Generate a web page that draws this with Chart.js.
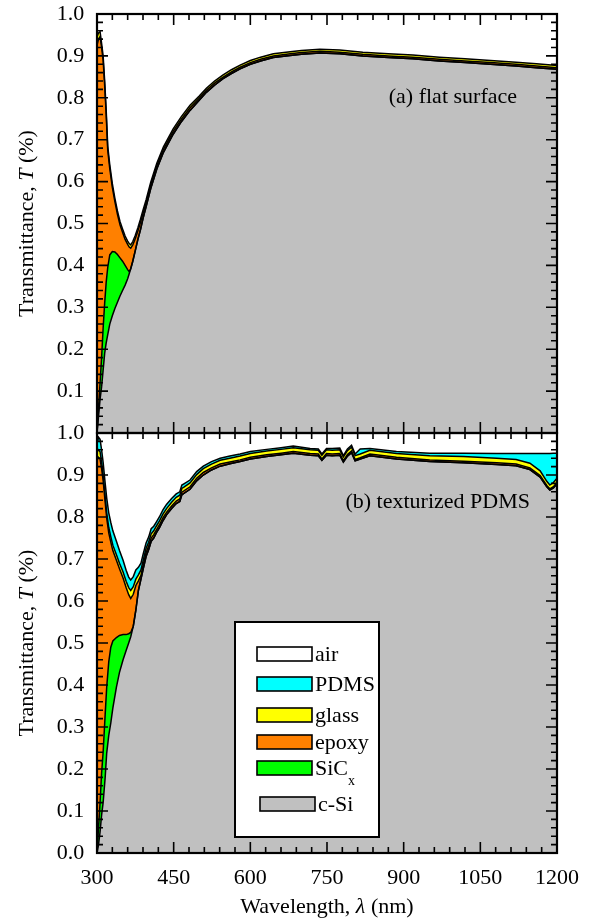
<!DOCTYPE html>
<html>
<head>
<meta charset="utf-8">
<script src="https://cdn.jsdelivr.net/npm/chart.js@4.4.1/dist/chart.umd.min.js"></script>
<style>
  html, body { margin: 0; padding: 0; background: #fff; overflow: hidden; }
  #wrap { position: relative; width: 602px; height: 923px; overflow: hidden; }
  canvas { position: absolute; left: 0; }
  #chartA { top: -12px; }
  #chartB { top: 407px; }
</style>
</head>
<body>
<div id="wrap">
  <canvas id="chartA" width="602" height="471"></canvas>
  <canvas id="chartB" width="602" height="516"></canvas>
</div>
<script>
const FONT = '"Liberation Serif", "Times New Roman", serif';
const B_TOP = 407; // page offset of the lower canvas

// (a) flat surface: transmittance at the top of each layer (cumulative)
const wlA = [300, 303, 306, 309, 312, 315, 318, 321, 325, 330, 335, 340, 345, 350, 355, 360, 363, 366, 370, 375,
  380, 385, 390, 396, 405, 417, 430, 449, 465, 482, 500, 514, 530, 546, 563, 580, 600, 620, 645, 678,
  700, 736, 775, 820, 870, 918, 970, 1020, 1070, 1120, 1160, 1200];
const glassA = [0.945, 0.955, 0.958, 0.93, 0.9, 0.84, 0.77, 0.685, 0.64, 0.595, 0.56, 0.53, 0.505, 0.487, 0.47, 0.458, 0.452, 0.449, 0.457, 0.472,
  0.49, 0.51, 0.532, 0.556, 0.598, 0.644, 0.683, 0.726, 0.755, 0.782, 0.804, 0.823, 0.84, 0.854, 0.867, 0.878, 0.889, 0.897, 0.905, 0.91,
  0.913, 0.916, 0.914, 0.909, 0.905, 0.902, 0.897, 0.893, 0.889, 0.885, 0.881, 0.877];
const epoxyA = [0.925, 0.94, 0.946, 0.92, 0.89, 0.83, 0.76, 0.675, 0.631, 0.586, 0.552, 0.522, 0.497, 0.479, 0.462, 0.45, 0.444, 0.441, 0.449, 0.464,
  0.482, 0.502, 0.524, 0.549, 0.592, 0.638, 0.677, 0.72, 0.749, 0.776, 0.799, 0.818, 0.835, 0.849, 0.862, 0.873, 0.884, 0.892, 0.9, 0.905,
  0.908, 0.911, 0.909, 0.904, 0.9, 0.897, 0.892, 0.888, 0.884, 0.88, 0.876, 0.872];
const sicA = [0.0, 0.06, 0.12, 0.18, 0.25, 0.31, 0.36, 0.395, 0.425, 0.433, 0.432, 0.426, 0.418, 0.41, 0.4, 0.39, 0.385, 0.392, 0.41, 0.436,
  0.462, 0.485, 0.512, 0.54, 0.583, 0.63, 0.67, 0.713, 0.743, 0.77, 0.794, 0.813, 0.83, 0.845, 0.858, 0.869, 0.88, 0.888, 0.896, 0.901,
  0.904, 0.907, 0.905, 0.9, 0.896, 0.893, 0.888, 0.884, 0.88, 0.876, 0.872, 0.868];
const cSiA = [0.0, 0.04, 0.08, 0.11, 0.15, 0.19, 0.215, 0.235, 0.26, 0.28, 0.297, 0.312, 0.327, 0.34, 0.353, 0.368, 0.38, 0.392, 0.41, 0.436,
  0.462, 0.485, 0.512, 0.54, 0.583, 0.63, 0.67, 0.713, 0.743, 0.77, 0.794, 0.813, 0.83, 0.845, 0.858, 0.869, 0.88, 0.888, 0.896, 0.901,
  0.904, 0.907, 0.905, 0.9, 0.896, 0.893, 0.888, 0.884, 0.88, 0.876, 0.872, 0.868];

// (b) texturized PDMS
const wlB = [300, 303, 306, 309, 312, 316, 319, 323, 327, 331, 338, 344, 351, 357, 362, 366, 371, 376, 381, 386,
  390, 396, 401, 406, 411, 416, 422, 429, 436, 446, 455, 462, 466, 470, 482, 495, 508, 524, 541, 560,
  580, 600, 632, 660, 684, 717, 733, 740, 749, 760, 775, 782, 790, 798, 805, 815, 834, 886, 951, 1017,
  1082, 1120, 1147, 1167, 1180, 1186, 1193, 1200];
const pdmsB = [0.975, 0.99, 0.985, 0.96, 0.93, 0.88, 0.845, 0.81, 0.787, 0.767, 0.742, 0.72, 0.697, 0.673, 0.657, 0.65, 0.658, 0.674, 0.68, 0.69,
  0.71, 0.738, 0.752, 0.772, 0.778, 0.788, 0.8, 0.817, 0.83, 0.844, 0.855, 0.86, 0.876, 0.879, 0.888, 0.908, 0.921, 0.932, 0.94, 0.945,
  0.95, 0.956, 0.961, 0.965, 0.969, 0.963, 0.962, 0.95, 0.963, 0.963, 0.964, 0.946, 0.962, 0.971, 0.95, 0.962, 0.963, 0.956, 0.952, 0.952,
  0.951, 0.951, 0.951, 0.951, 0.951, 0.951, 0.952, 0.952];
const glassB = [0.955, 0.96, 0.955, 0.93, 0.9, 0.848, 0.81, 0.775, 0.753, 0.733, 0.71, 0.69, 0.669, 0.647, 0.632, 0.625, 0.634, 0.652, 0.662, 0.674,
  0.695, 0.725, 0.74, 0.76, 0.767, 0.778, 0.79, 0.807, 0.82, 0.835, 0.847, 0.852, 0.868, 0.871, 0.881, 0.901, 0.915, 0.926, 0.935, 0.94,
  0.945, 0.951, 0.957, 0.961, 0.965, 0.96, 0.959, 0.947, 0.96, 0.959, 0.96, 0.943, 0.958, 0.966, 0.946, 0.95, 0.959, 0.951, 0.946, 0.944,
  0.94, 0.937, 0.928, 0.91, 0.885, 0.876, 0.882, 0.892];
const epoxyB = [0.935, 0.942, 0.938, 0.915, 0.887, 0.835, 0.797, 0.762, 0.74, 0.72, 0.697, 0.677, 0.655, 0.632, 0.615, 0.606, 0.616, 0.637, 0.648, 0.661,
  0.684, 0.715, 0.731, 0.75, 0.758, 0.769, 0.781, 0.798, 0.811, 0.826, 0.838, 0.843, 0.859, 0.862, 0.872, 0.892, 0.906, 0.917, 0.926, 0.931,
  0.936, 0.942, 0.948, 0.952, 0.956, 0.951, 0.95, 0.938, 0.951, 0.95, 0.951, 0.934, 0.949, 0.957, 0.937, 0.941, 0.95, 0.942, 0.936, 0.933,
  0.929, 0.926, 0.917, 0.899, 0.875, 0.867, 0.872, 0.882];
const sicB = [0.0, 0.06, 0.12, 0.19, 0.24, 0.33, 0.395, 0.455, 0.49, 0.505, 0.513, 0.518, 0.52, 0.52, 0.522, 0.525, 0.54, 0.578, 0.625, 0.652,
  0.674, 0.706, 0.722, 0.742, 0.75, 0.762, 0.774, 0.791, 0.805, 0.82, 0.832, 0.837, 0.853, 0.856, 0.866, 0.886, 0.9, 0.912, 0.921, 0.927,
  0.932, 0.938, 0.944, 0.948, 0.952, 0.947, 0.946, 0.935, 0.947, 0.946, 0.947, 0.931, 0.945, 0.953, 0.934, 0.938, 0.946, 0.938, 0.932, 0.929,
  0.925, 0.922, 0.913, 0.895, 0.872, 0.864, 0.869, 0.879];
const cSiB = [0.0, 0.02, 0.05, 0.09, 0.12, 0.18, 0.238, 0.28, 0.31, 0.345, 0.395, 0.43, 0.46, 0.482, 0.5, 0.515, 0.54, 0.578, 0.625, 0.652,
  0.674, 0.706, 0.722, 0.742, 0.75, 0.762, 0.774, 0.791, 0.805, 0.82, 0.832, 0.837, 0.853, 0.856, 0.866, 0.886, 0.9, 0.912, 0.921, 0.927,
  0.932, 0.938, 0.944, 0.948, 0.952, 0.947, 0.946, 0.935, 0.947, 0.946, 0.947, 0.931, 0.945, 0.953, 0.934, 0.938, 0.946, 0.938, 0.932, 0.929,
  0.925, 0.922, 0.913, 0.895, 0.872, 0.864, 0.869, 0.879];

const xTicks = [300, 450, 600, 750, 900, 1050, 1200];
const yTicks = [0.0, 0.1, 0.2, 0.3, 0.4, 0.5, 0.6, 0.7, 0.8, 0.9, 1.0];
const layerNames = ['air', 'PDMS', 'glass', 'epoxy', 'SiCx', 'c-Si'];
const layerColors = ['#ffffff', '#00ffff', '#ffff00', '#ff8000', '#00ff00', '#c0c0c0'];

function layer(wl, vals, color, fill) {
  return {
    data: wl.map((w, i) => ({ x: w, y: vals[i] })),
    backgroundColor: color,
    borderColor: '#000',
    borderWidth: 1.5,
    pointRadius: 0,
    fill: fill
  };
}

function drawRuns(ctx, runs, x, y, size, align) {
  let w = 0;
  for (const [t, s] of runs) { ctx.font = s + size + 'px ' + FONT; w += ctx.measureText(t).width; }
  let cx = align === 'center' ? x - w / 2 : align === 'right' ? x - w : x;
  ctx.textAlign = 'left';
  ctx.fillStyle = '#000';
  for (const [t, s] of runs) {
    ctx.font = s + size + 'px ' + FONT;
    ctx.fillText(t, cx, y);
    cx += ctx.measureText(t).width;
  }
}

// inward ticks on all four sides plus the box
const frame = {
  id: 'frame',
  afterDatasetsDraw(chart) {
    const { ctx, chartArea: a, scales: { x, y } } = chart;
    ctx.save();
    ctx.strokeStyle = '#000';
    ctx.lineWidth = 1.6;
    ctx.beginPath();
    for (let v = 300; v <= 1200; v += 30) {
      const px = x.getPixelForValue(v);
      const len = (v - 300) % 150 === 0 ? 11 : 6;
      ctx.moveTo(px, a.top); ctx.lineTo(px, a.top + len);
      ctx.moveTo(px, a.bottom); ctx.lineTo(px, a.bottom - len);
    }
    for (let k = 0; k <= 50; k++) {
      const py = y.getPixelForValue(k / 50);
      const len = k % 5 === 0 ? 11 : 6;
      ctx.moveTo(a.left, py); ctx.lineTo(a.left + len, py);
      ctx.moveTo(a.right, py); ctx.lineTo(a.right - len, py);
    }
    ctx.stroke();
    ctx.lineWidth = 2.2;
    ctx.strokeRect(a.left, a.top, a.right - a.left, a.bottom - a.top);
    ctx.restore();
  }
};

function yTitle(chart) {
  const { ctx, chartArea: a } = chart;
  ctx.save();
  ctx.translate(27, (a.top + a.bottom) / 2);
  ctx.rotate(-Math.PI / 2);
  ctx.textBaseline = 'middle';
  drawRuns(ctx, [['Transmittance, ', ''], ['T', 'italic '], [' (%)', '']], 0, 0, 22, 'center');
  ctx.restore();
}

const decorA = {
  id: 'decorA',
  afterDraw(chart) {
    const ctx = chart.ctx;
    yTitle(chart);
    ctx.save();
    ctx.textBaseline = 'alphabetic';
    drawRuns(ctx, [['(a) flat surface', '']], 517, 103 + 12, 22, 'right');
    ctx.restore();
  }
};

const decorB = {
  id: 'decorB',
  afterDraw(chart) {
    const { ctx, chartArea: a } = chart;
    const gy = v => v - B_TOP;
    yTitle(chart);
    ctx.save();
    ctx.textBaseline = 'alphabetic';
    drawRuns(ctx, [['(b) texturized PDMS', '']], 530, gy(508), 22, 'right');
    drawRuns(ctx, [['Wavelength, ', ''], ['\u03bb', 'italic '], [' (nm)', '']], (a.left + a.right) / 2, gy(913), 22, 'center');

    // legend box
    ctx.fillStyle = '#fff';
    ctx.fillRect(235, gy(622), 144, 215);
    ctx.strokeStyle = '#000';
    ctx.lineWidth = 2;
    ctx.strokeRect(235, gy(622), 144, 215);
    const rows = [654, 684, 715, 742, 768, 804];
    layerNames.forEach((name, i) => {
      const cy = gy(rows[i]);
      const sx = i === 5 ? 260 : 257;
      ctx.fillStyle = layerColors[i];
      ctx.fillRect(sx, cy - 7, 55, 14);
      ctx.lineWidth = 1.6;
      ctx.strokeRect(sx, cy - 7, 55, 14);
      const tx = sx + 58;
      if (name === 'SiCx') {
        drawRuns(ctx, [['SiC', '']], tx, cy + 7, 22, 'left');
        ctx.font = '22px ' + FONT;
        const w = ctx.measureText('SiC').width;
        drawRuns(ctx, [['x', '']], tx + w, cy + 17, 14, 'left');
      } else {
        drawRuns(ctx, [[name, '']], tx, cy + 7, 22, 'left');
      }
    });
    ctx.restore();
  }
};

function makeOptions(bottom) {
  return {
    responsive: false,
    animation: false,
    events: [],
    layout: { padding: { top: 0, right: 45, bottom: 0, left: 0 } },
    plugins: {
      legend: { display: false },
      tooltip: { enabled: false },
      filler: { propagate: false, drawTime: 'beforeDatasetsDraw' }
    },
    scales: {
      x: {
        type: 'linear',
        min: 300,
        max: 1200,
        display: bottom,
        grid: { display: false, drawTicks: false },
        border: { display: false },
        afterBuildTicks: s => { s.ticks = xTicks.map(v => ({ value: v })); },
        afterFit: s => { s.height = bottom ? 70 : 0; },
        ticks: {
          autoSkip: false, maxRotation: 0, padding: 12, color: '#000',
          font: { family: FONT, size: 22 },
          callback: v => String(v)
        }
      },
      y: {
        type: 'linear',
        min: 0,
        max: 1,
        grid: { display: false, drawTicks: false },
        border: { display: false },
        afterBuildTicks: s => { s.ticks = yTicks.map(v => ({ value: v })); },
        afterFit: s => { s.width = 97; },
        ticks: {
          padding: 12.8,
          color: '#000',
          font: { family: FONT, size: 22 },
          callback: v => (!bottom && v === 0) ? '' : v.toFixed(1)
        }
      }
    }
  };
}

new Chart(document.getElementById('chartA'), {
  type: 'line',
  data: {
    datasets: [
      layer(wlA, cSiA, layerColors[5], 'origin'),
      layer(wlA, sicA, layerColors[4], '-1'),
      layer(wlA, epoxyA, layerColors[3], '-1'),
      layer(wlA, glassA, layerColors[2], '-1')
    ]
  },
  options: makeOptions(false),
  plugins: [frame, decorA]
});

new Chart(document.getElementById('chartB'), {
  type: 'line',
  data: {
    datasets: [
      layer(wlB, cSiB, layerColors[5], 'origin'),
      layer(wlB, sicB, layerColors[4], '-1'),
      layer(wlB, epoxyB, layerColors[3], '-1'),
      layer(wlB, glassB, layerColors[2], '-1'),
      layer(wlB, pdmsB, layerColors[1], '-1')
    ]
  },
  options: makeOptions(true),
  plugins: [frame, decorB]
});
</script>
</body>
</html>
